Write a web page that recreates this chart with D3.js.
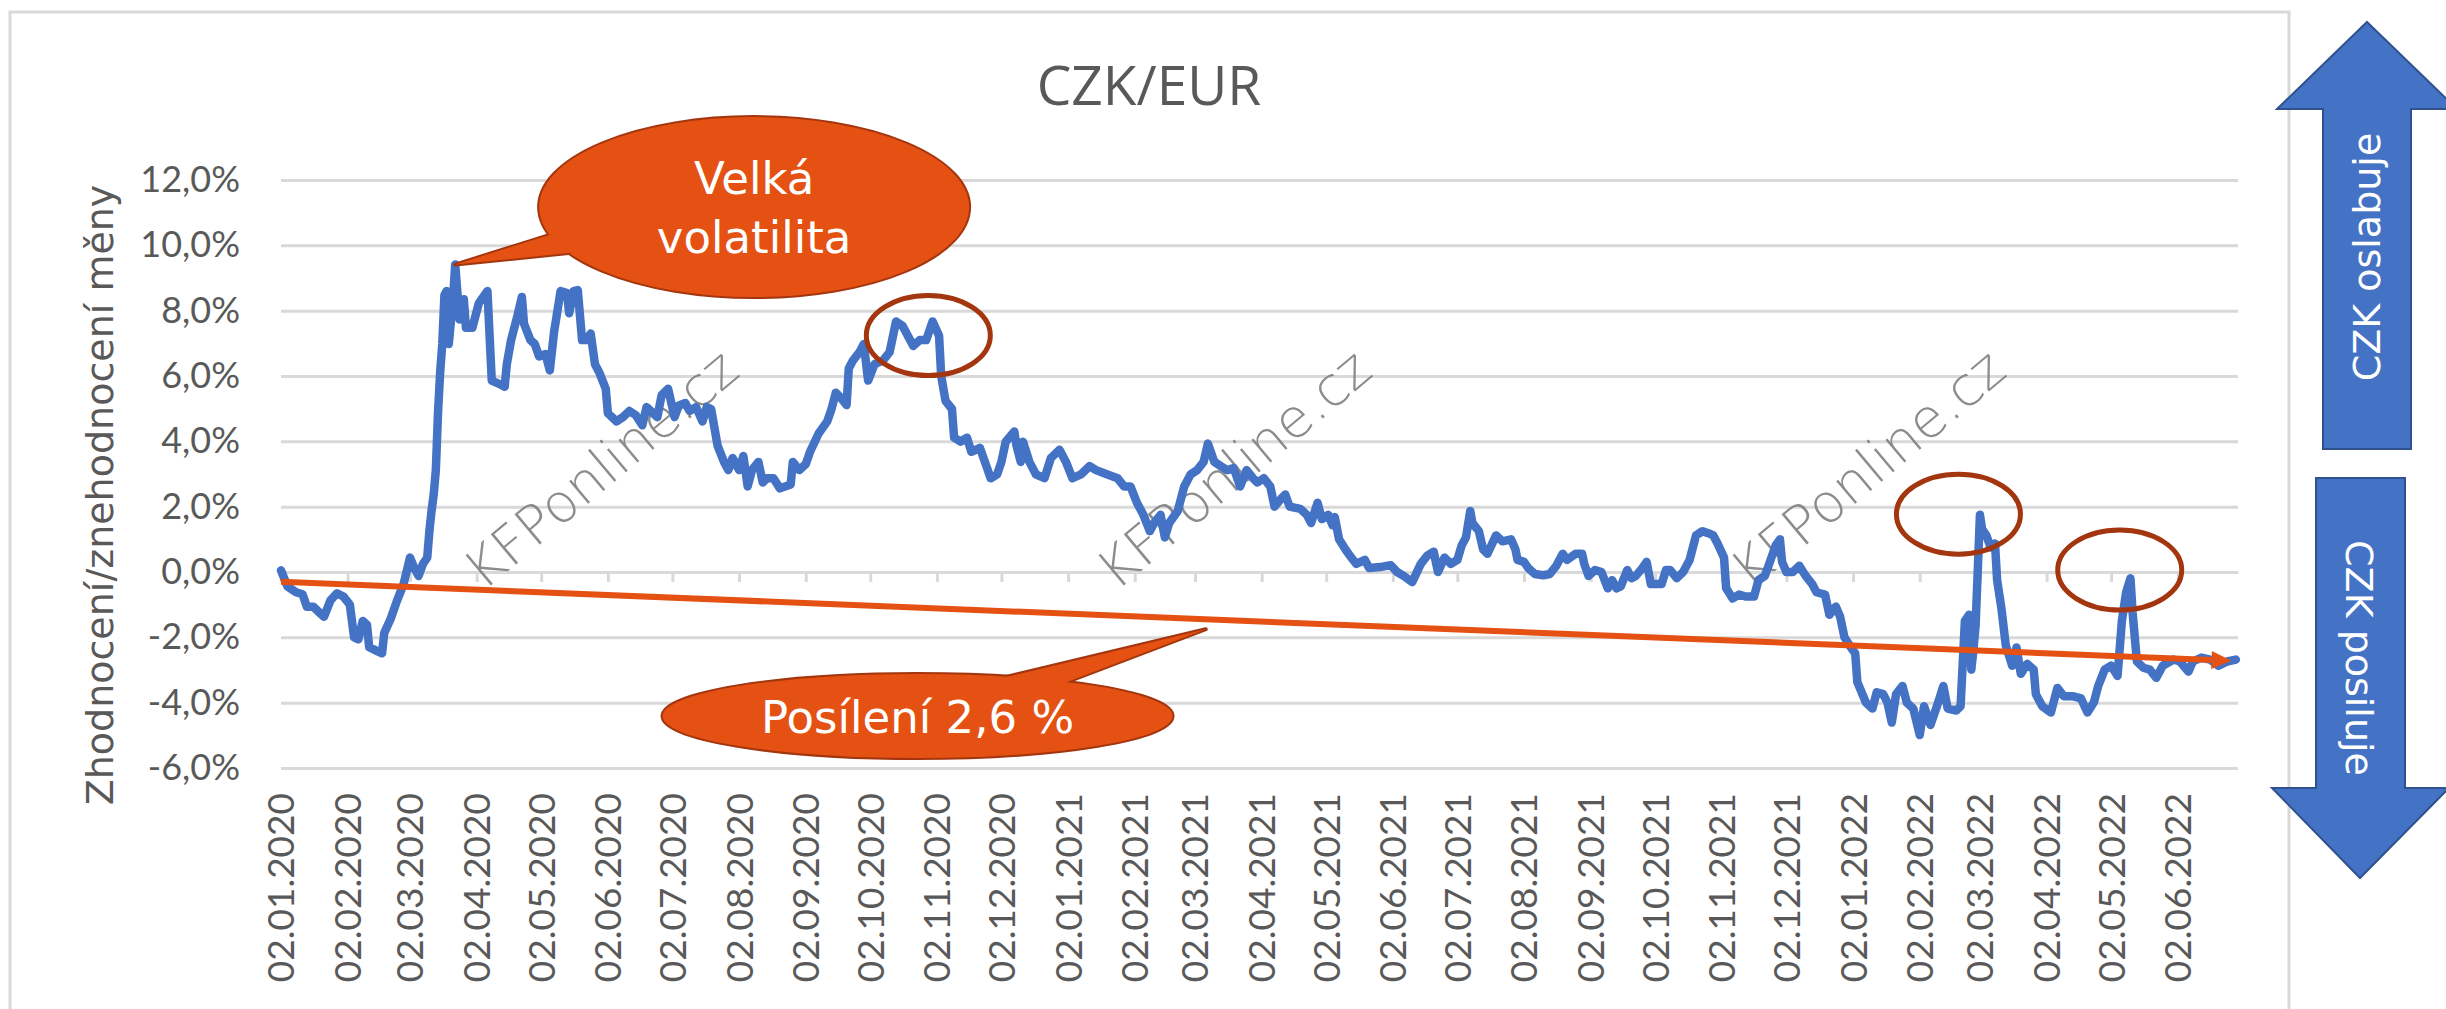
<!DOCTYPE html>
<html>
<head>
<meta charset="utf-8">
<script src="https://cdn.jsdelivr.net/npm/d3@7"></script>
<style>
  body { margin: 0; background: #fff; }
</style>
</head>
<body>
<svg id="chart" width="2446" height="1009"></svg>
<script>
// ---- data ----
// days after 02.01.2020
const dayOffsets = [
  0, 3, 7, 10, 12, 15, 18, 20, 23, 26,
  29, 32, 34, 36, 38, 40, 41, 45, 47, 48,
  51, 54, 57, 60, 62, 64, 66, 68, 69, 70,
  71, 72, 73, 74, 75, 76, 77, 78, 80, 81,
  83, 85, 86, 89, 92, 96, 98, 102, 104, 105,
  107, 110, 112, 113, 116, 118, 120, 123, 125, 127,
  130, 133, 134, 136, 138, 140, 142, 144, 146, 148,
  151, 152, 156, 159, 162, 165, 168, 170, 175, 177,
  180, 183, 185, 188, 190, 193, 196, 198, 200, 203,
  206, 208, 210, 213, 215, 217, 219, 222, 224,
  226, 229, 232, 237, 238, 241, 244, 246, 250, 254,
  256, 258, 260, 263, 264, 266, 269, 271, 273, 276,
  280, 283, 286, 289, 294, 297, 300, 303, 306, 307,
  309, 312, 313, 316, 319, 321, 325, 328, 330, 333,
  335, 337, 341, 342, 344, 345, 348, 351, 355, 358,
  362, 365, 368, 372, 376, 379, 384, 389, 392, 395,
  398, 401, 404, 406, 409, 411, 413, 417, 420, 423,
  426, 429, 431, 434, 437, 440, 443, 446, 449, 452,
  454, 457, 460, 462, 465, 467, 469, 474, 477, 479,
  482, 484, 487, 489, 490, 492, 495, 497, 500, 504,
  506, 511, 516, 519, 522, 526, 530, 533, 536, 538,
  541, 544, 547, 549, 551, 553, 554, 557, 559, 561,
  565, 568, 572, 574, 575, 578, 580, 583, 587, 590,
  593, 596, 598, 602, 605, 606, 608, 611, 614, 617,
  619, 621, 623, 626, 628, 630, 633, 635, 637, 642,
  644, 646, 649, 652, 655, 658, 661, 664, 666, 668,
  671, 672, 675, 678, 681,
  685, 687, 690, 692, 695, 697, 698, 700, 703, 706,
  709, 712, 714, 718, 720, 723, 725, 727, 730, 732,
  733, 737, 740, 742, 745, 747, 749, 751, 754, 756,
  759, 762, 764, 767, 770, 773, 775, 779, 781, 783,
  785, 786, 787, 788, 790, 791, 793, 795, 797, 798,
  800, 802, 805, 807, 809, 812, 815, 816, 819, 823,
  826, 829, 833, 837, 840, 843, 845, 848, 851, 854,
  856, 858, 860, 861, 863, 866, 869, 872, 875, 880,
  883, 887, 889, 893, 897, 901, 905, 909
]
// zhodnocení / znehodnocení in %
const changePct = [
  0.05, -0.44, -0.62, -0.68, -1.06, -1.06, -1.25, -1.37, -0.87, -0.65,
  -0.75, -1.0, -2.0, -2.06, -1.5, -1.62, -2.3, -2.43, -2.49, -1.87,
  -1.43, -0.87, -0.37, 0.44, 0.12, -0.12, 0.25, 0.44, 1.25, 1.87,
  2.37, 3.12, 4.86, 6.11, 6.98, 8.48, 8.6, 6.98, 8.35, 9.41,
  7.73, 8.35, 7.48, 7.48, 8.23, 8.6, 5.86, 5.74, 5.67, 6.36,
  7.1, 7.86, 8.42, 7.6, 7.1, 6.98, 6.6, 6.67, 6.17, 7.36,
  8.6, 8.54, 7.92, 8.6, 8.63, 7.1, 7.1, 7.3, 6.36, 6.11,
  5.61, 4.86, 4.61, 4.74, 4.93, 4.8, 4.49, 5.05, 4.74, 5.42,
  5.61, 4.74, 5.1, 5.17, 4.93, 5.05, 4.61, 5.05, 4.99, 3.87,
  3.37, 3.12, 3.49, 3.12, 3.55, 2.62, 3.12, 3.37, 2.74,
  2.87, 2.87, 2.56, 2.68, 3.37, 3.12, 3.3, 3.68, 4.24, 4.61,
  4.99, 5.49, 5.36, 5.11, 6.23, 6.48, 6.73, 6.98, 5.86, 6.36,
  6.48, 6.73, 7.67, 7.54, 6.92, 7.1, 7.1, 7.67, 7.23, 5.99,
  5.24, 4.99, 4.11, 3.99, 4.11, 3.68, 3.8, 3.24, 2.87, 2.99,
  3.37, 3.99, 4.3, 3.87, 3.37, 3.99, 3.37, 2.99, 2.87, 3.49,
  3.74, 3.37, 2.87, 2.99, 3.24, 3.12, 2.99, 2.87, 2.62, 2.62,
  2.12, 1.75, 1.25, 1.5, 1.75, 1.06, 1.5, 1.87, 2.62, 2.99,
  3.12, 3.37, 3.93, 3.37, 3.24, 3.12, 3.18, 2.62, 3.12, 2.87,
  2.74, 2.87, 2.62, 2.0, 2.24, 2.37, 2.0, 1.93, 1.75, 1.5,
  2.12, 1.62, 1.75, 1.43, 1.68, 1.0, 0.69, 0.5, 0.25, 0.37,
  0.12, 0.15, 0.21, 0.0, -0.12, -0.31, 0.25, 0.5, 0.62, 0.0,
  0.44, 0.25, 0.37, 0.81, 1.06, 1.87, 1.5, 1.25, 0.69, 0.56,
  1.12, 0.94, 1.0, 0.69, 0.37, 0.31, 0.12, -0.06, -0.1, -0.06,
  0.19, 0.56, 0.37, 0.56, 0.56, 0.25, -0.12, 0.06, 0.0, -0.5,
  -0.25, -0.5, -0.44, 0.06, -0.19, -0.12, 0.12, 0.31, -0.37, -0.37,
  0.06, 0.06, -0.19, 0.0, 0.37, 1.12, 1.25, 1.18, 1.12, 0.87,
  0.44, -0.5, -0.81, -0.69, -0.75,
  -0.75, -0.25, -0.12, 0.25, 0.81, 1.0, 0.31, 0.0, 0.0, 0.19,
  -0.12, -0.37, -0.62, -0.69, -1.31, -1.06, -1.37, -2.0, -2.31, -2.49,
  -3.37, -4.0, -4.18, -3.68, -3.74, -4.0, -4.61, -3.74, -3.49, -4.0,
  -4.18, -4.99, -4.11, -4.68, -4.11, -3.49, -4.18, -4.24, -4.11, -1.5,
  -1.31, -2.99, -2.37, -1.62, 1.75, 1.31, 1.12, 0.75, 0.87, -0.25,
  -1.12, -2.24, -2.87, -2.31, -3.12, -2.81, -2.99, -3.74, -4.11, -4.3,
  -3.55, -3.8, -3.8, -3.87, -4.3, -3.99, -3.49, -2.99, -2.87, -3.18,
  -1.5, -0.62, -0.19, -1.25, -2.74, -2.93, -2.99, -3.24, -2.87, -2.68,
  -2.74, -3.05, -2.74, -2.62, -2.68, -2.87, -2.74, -2.68
]

const xTickLabels = [
  '02.01.2020', '02.02.2020', '02.03.2020', '02.04.2020', '02.05.2020', '02.06.2020',
  '02.07.2020', '02.08.2020', '02.09.2020', '02.10.2020', '02.11.2020', '02.12.2020',
  '02.01.2021', '02.02.2021', '02.03.2021', '02.04.2021', '02.05.2021', '02.06.2021',
  '02.07.2021', '02.08.2021', '02.09.2021', '02.10.2021', '02.11.2021', '02.12.2021',
  '02.01.2022', '02.02.2022', '02.03.2022', '02.04.2022', '02.05.2022', '02.06.2022'
]
const yTicks = [-6, -4, -2, 0, 2, 4, 6, 8, 10, 12]

// trend "Posílení 2,6 %"
const trendDays = [0, 907]
const trendPct = [-0.3, -2.72]

// brown ellipses round the peaks
const ringDays = [301, 780, 855]
const ringPct = [7.24, 1.77, 0.06]

// callouts
const calloutLines = [['Velká', 'volatilita'], ['Posílení 2,6 %']]
const calloutDays = [220, 296]
const calloutPct = [11.17, -4.41]
const calloutTipDays = [81, 430]
const calloutTipPct = [9.41, -1.75]

// ---- drawing ----
const svg = d3.select('#chart')
const parseDay = d3.timeParse('%d.%m.%Y')
const startDate = parseDay('02.01.2020')
const endDate = parseDay('30.06.2022')
const dayToDate = d => d3.timeDay.offset(startDate, d)

const x = d3.scaleTime().domain([startDate, endDate]).range([281, 2238])
const y = d3.scaleLinear().domain([-6, 12]).range([768, 180])

const grey = '#595959'
const gridColor = '#d9d9d9'

// chart frame
svg.append('rect')
  .attr('x', 10).attr('y', 12)
  .attr('width', 2279).attr('height', 1100)
  .attr('fill', '#fff')
  .attr('stroke', gridColor)
  .attr('stroke-width', 3)

// gridlines + y labels
const yAxis = svg.append('g')
  .attr('transform', 'translate(281,0)')
  .call(d3.axisLeft(y)
    .tickValues(yTicks)
    .tickSize(-(2238 - 281))
    .tickPadding(41)
    .tickFormat(d => d.toFixed(1).replace('.', ',') + '%'))
yAxis.select('.domain').remove()
yAxis.selectAll('line').attr('stroke', gridColor).attr('stroke-width', 3)
yAxis.selectAll('text')
  .attr('fill', grey)
  .attr('font-family', 'Lato, sans-serif')
  .attr('font-size', 36)

// horizontal axis line at 0 with ticks
const tickDates = xTickLabels.map(parseDay)
const xAxisLine = svg.append('g')
  .attr('transform', 'translate(0,' + y(0) + ')')
  .call(d3.axisBottom(x).tickValues(tickDates).tickSize(10).tickSizeOuter(0).tickFormat(''))
xAxisLine.select('.domain').attr('stroke', gridColor).attr('stroke-width', 3)
xAxisLine.selectAll('line').attr('stroke', gridColor).attr('stroke-width', 3)

// date labels at the bottom
const xLabels = svg.append('g')
  .attr('transform', 'translate(0,' + y(-6) + ')')
  .call(d3.axisBottom(x).tickValues(tickDates).tickSize(0)
    .tickFormat((d, i) => xTickLabels[i]))
xLabels.select('.domain').remove()
xLabels.selectAll('text')
  .attr('transform', 'rotate(-90)')
  .attr('text-anchor', 'end')
  .attr('x', -25)
  .attr('y', 0)
  .attr('dy', '0.35em')
  .attr('fill', grey)
  .attr('font-family', 'Lato, sans-serif')
  .attr('font-size', 37)

// watermark
;[601, 1234, 1868].forEach(cx => {
  svg.append('text')
    .attr('transform', 'translate(' + cx + ',469) rotate(-40)')
    .attr('text-anchor', 'middle')
    .attr('dominant-baseline', 'central')
    .attr('font-family', 'DejaVu Sans, sans-serif')
    .attr('font-weight', 200)
    .attr('font-size', 54)
    .attr('fill', '#808080')
    .attr('opacity', 0.9)
    .text('KFPonline.cz')
})

// title
svg.append('text')
  .attr('x', 1149).attr('y', 105)
  .attr('text-anchor', 'middle')
  .attr('font-family', 'Open Sans, sans-serif')
  .attr('font-size', 55)
  .attr('fill', grey)
  .text('CZK/EUR')

// y axis title
svg.append('text')
  .attr('transform', 'translate(100,495) rotate(-90)')
  .attr('text-anchor', 'middle')
  .attr('dominant-baseline', 'central')
  .attr('font-family', 'DejaVu Sans, sans-serif')
  .attr('font-size', 38)
  .attr('fill', grey)
  .text('Zhodnocení/znehodnocení měny')

// series
const points = dayOffsets.map((d, i) => ({ date: dayToDate(d), value: changePct[i] }))
const line = d3.line().x(d => x(d.date)).y(d => y(d.value))
svg.append('path')
  .attr('d', line(points))
  .attr('fill', 'none')
  .attr('stroke', '#4472C4')
  .attr('stroke-width', 8.5)
  .attr('stroke-linejoin', 'round')
  .attr('stroke-linecap', 'round')

// trend arrow
const orange = '#E55013'
const trend = trendDays.map((d, i) => ({ date: dayToDate(d), value: trendPct[i] }))
const tx0 = x(trend[0].date), ty0 = y(trend[0].value)
const tx1 = x(trend[1].date), ty1 = y(trend[1].value)
const ang = Math.atan2(ty1 - ty0, tx1 - tx0)
const headLen = 20, headHalf = 9
const bx = tx1 - headLen * Math.cos(ang), by = ty1 - headLen * Math.sin(ang)
svg.append('line')
  .attr('x1', tx0).attr('y1', ty0)
  .attr('x2', bx).attr('y2', by)
  .attr('stroke', orange)
  .attr('stroke-width', 6)
svg.append('path')
  .attr('d', 'M' + tx1 + ',' + ty1 +
    'L' + (bx - headHalf * Math.sin(ang)) + ',' + (by + headHalf * Math.cos(ang)) +
    'L' + (bx + headHalf * Math.sin(ang)) + ',' + (by - headHalf * Math.cos(ang)) + 'Z')
  .attr('fill', orange)

// rings
ringDays.forEach((d, i) => {
  svg.append('ellipse')
    .attr('cx', x(dayToDate(d)))
    .attr('cy', y(ringPct[i]))
    .attr('rx', 62).attr('ry', 40)
    .attr('fill', 'none')
    .attr('stroke', '#A3360E')
    .attr('stroke-width', 5)
})

// callouts
const calloutSize = [[215, 90], [255, 42]]
const calloutBase = [[167, 145], [-73, -51]]
const rad = a => a * Math.PI / 180
calloutDays.forEach((d, i) => {
  const cx = x(dayToDate(d)), cy = y(calloutPct[i])
  const [rx, ry] = calloutSize[i]
  const tipX = x(dayToDate(calloutTipDays[i])), tipY = y(calloutTipPct[i])
  const base = a => [cx + 0.8 * rx * Math.cos(rad(a)), cy + 0.8 * ry * Math.sin(rad(a))]
  const tri = 'M' + [[tipX, tipY], base(calloutBase[i][0]), base(calloutBase[i][1])].join('L') + 'Z'
  const g = svg.append('g')
  ;[4, 0].forEach(sw => {
    g.append('ellipse')
      .attr('cx', cx).attr('cy', cy).attr('rx', rx).attr('ry', ry)
      .attr('fill', orange)
      .attr('stroke', sw ? '#A3360E' : 'none')
      .attr('stroke-width', sw)
    g.append('path')
      .attr('d', tri)
      .attr('fill', orange)
      .attr('stroke', sw ? '#A3360E' : 'none')
      .attr('stroke-width', sw)
      .attr('stroke-linejoin', 'round')
  })
  const lines = calloutLines[i]
  const first = lines.length > 1 ? cy - 13 : cy + 17
  lines.forEach((t, k) => {
    g.append('text')
      .attr('x', cx).attr('y', first + k * 59)
      .attr('text-anchor', 'middle')
      .attr('font-family', 'DejaVu Sans, sans-serif')
      .attr('font-size', 45)
      .attr('fill', '#fff')
      .text(t)
  })
})

// side arrows
const blue = '#4472C4', blueEdge = '#2F528F'
svg.append('path')
  .attr('d', 'M2367,22 L2457,109 L2411,109 L2411,449 L2323,449 L2323,109 L2277,109 Z')
  .attr('fill', blue).attr('stroke', blueEdge).attr('stroke-width', 2)
svg.append('path')
  .attr('d', 'M2316,478 L2405,478 L2405,788 L2449,788 L2360,878 L2272,788 L2316,788 Z')
  .attr('fill', blue).attr('stroke', blueEdge).attr('stroke-width', 2)
svg.append('text')
  .attr('transform', 'translate(2367,257) rotate(-90)')
  .attr('text-anchor', 'middle')
  .attr('dominant-baseline', 'central')
  .attr('font-family', 'DejaVu Sans, sans-serif')
  .attr('font-size', 38)
  .attr('fill', '#fff')
  .text('CZK oslabuje')
svg.append('text')
  .attr('transform', 'translate(2359,658) rotate(90)')
  .attr('text-anchor', 'middle')
  .attr('dominant-baseline', 'central')
  .attr('font-family', 'DejaVu Sans, sans-serif')
  .attr('font-size', 38)
  .attr('fill', '#fff')
  .text('CZK posiluje')
</script>
</body>
</html>
